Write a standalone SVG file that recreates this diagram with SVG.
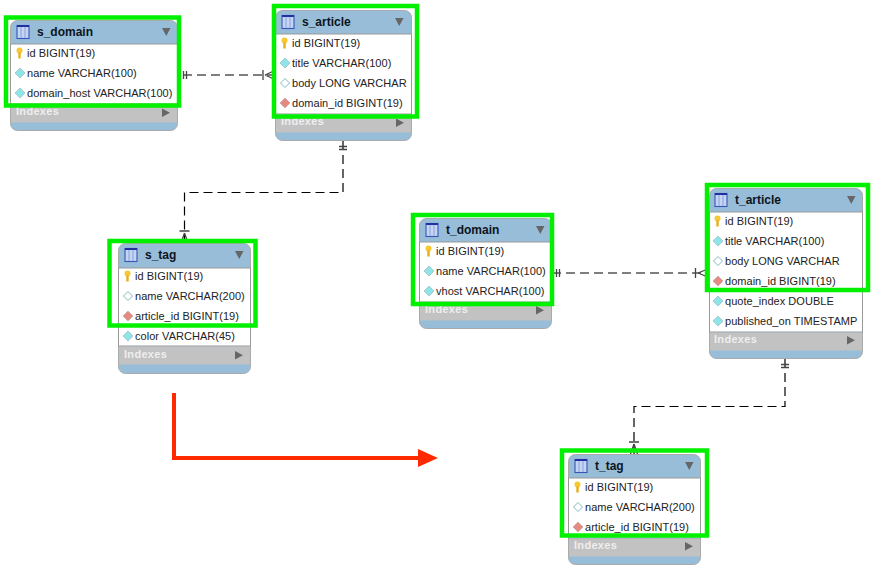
<svg xmlns="http://www.w3.org/2000/svg" xmlns:xlink="http://www.w3.org/1999/xlink" width="872" height="574" viewBox="0 0 872 574">
<style>
text{font-family:"Liberation Sans",Arial,sans-serif}
.t{font-size:12px;font-weight:bold;fill:#0c1420}
.r{font-size:11px;fill:#222;letter-spacing:.03px}
.i{font-size:11px;font-weight:bold;fill:#eee;letter-spacing:.3px}
.g{fill:none;stroke:#00f000;stroke-width:4.500}
.c{fill:none;stroke:#000;stroke-width:1.2;stroke-dasharray:9 5}
.m{fill:none;stroke:#444;stroke-width:1.300}
.n{fill:#97bdd9;stroke:#aaa}
.w{fill:#fff;stroke:#999}
.x{fill:#c2c2c2}
</style>
<defs>
<g id="tb"><rect x="0" y="-6.500" width="12" height="13" fill="#c4d4f2" stroke="#3a55b8" stroke-width="1.100"/><path d="M0-6h12" stroke="#2030a0" stroke-width="2"/><path d="M4-5v11M8-5v11" stroke="#8aa2dc" stroke-width="1"/></g>
<path id="tri" d="M0 0h8.500l-4.250 8z" fill="#666"/>
<path id="rt" d="M0 0l8 4.200-8 4.200z" fill="#666"/>
<g id="key"><circle cx="0" cy="-2.500" r="3" fill="#f6c832"/><path d="M-1.200-.5h2.400v6h-2.400z" fill="#e6ae1c"/></g>
<path id="dc" d="M0-5l5 5-5 5-5-5z" fill="#8fe4e8" stroke="#a0c0c8" stroke-width=".8"/>
<path id="dw" d="M0-4.500l4.500 4.500-4.500 4.500-4.500-4.500z" fill="#fff" stroke="#6fb0b4" stroke-width=".9"/>
<path id="dr" d="M0-5l5 5-5 5-5-5z" fill="#e58a83" stroke="#c8a8a8" stroke-width=".8"/>
</defs>
<rect width="872" height="574" fill="#fff"/>
<g id="connectors">
<path class="c" d="M183 75H275"/><path class="m" d="M183.500 71v8M186.500 71v8M263 70v10M265 75l10-4.500M265 75l10 4.500"/>
<path class="c" d="M343 141V192.500H184.500V243"/><path class="m" d="M339 146.500h8M339 149.500h8M179.500 231h10M184.500 233l-3.500 10M184.500 233l3.500 10"/>
<path class="c" d="M552 273H709"/><path class="m" d="M556.500 269v8M559.500 269v8M695.500 268v10M698 273l11-4.500M698 273l11 4.500"/>
<path class="c" d="M785 359V406.500H634V454"/><path class="m" d="M781 364.500h8M781 367.500h8M629 442h10M634 444l-3.500 10M634 444l3.500 10"/>
</g>
<g id="s_domain">
<rect class="n" x="10.500" y="20.500" width="167" height="110" rx="7"/>
<rect class="w" x="10.500" y="44" width="167" height="60"/>
<rect class="x" x="11" y="104.500" width="166" height="18"/>
<use xlink:href="#tb" x="17" y="32"/><text class="t" x="37" y="36">s_domain</text><use xlink:href="#tri" x="162" y="28"/>
<use xlink:href="#key" x="19.500" y="53"/><text class="r" x="27" y="57">id BIGINT(19)</text>
<use xlink:href="#dc" x="20" y="73"/><text class="r" x="27" y="77">name VARCHAR(100)</text>
<use xlink:href="#dc" x="20" y="93"/><text class="r" x="27" y="97">domain_host VARCHAR(100)</text>
<text class="i" x="16" y="115">Indexes</text><use xlink:href="#rt" x="162" y="108.500"/>
<rect class="g" x="6" y="17.500" width="173" height="88"/>
</g>
<g id="s_article">
<rect class="n" x="275.500" y="10.500" width="136" height="130" rx="7"/>
<rect class="w" x="275.500" y="34" width="136" height="80"/>
<rect class="x" x="276" y="114.500" width="135" height="18"/>
<use xlink:href="#tb" x="282" y="22"/><text class="t" x="302" y="26">s_article</text><use xlink:href="#tri" x="395" y="18"/>
<use xlink:href="#key" x="284.500" y="43"/><text class="r" x="292" y="47">id BIGINT(19)</text>
<use xlink:href="#dc" x="285" y="63"/><text class="r" x="292" y="67">title VARCHAR(100)</text>
<use xlink:href="#dw" x="285" y="83"/><text class="r" x="292" y="87">body LONG VARCHAR</text>
<use xlink:href="#dr" x="285" y="103"/><text class="r" x="292" y="107">domain_id BIGINT(19)</text>
<text class="i" x="281" y="125">Indexes</text><use xlink:href="#rt" x="396" y="118.500"/>
<rect class="g" x="274" y="6" width="143" height="110.500"/>
</g>
<g id="s_tag">
<rect class="n" x="118.500" y="243.500" width="132" height="130" rx="7"/>
<rect class="w" x="118.500" y="268" width="132" height="78"/>
<rect class="x" x="119" y="346.500" width="131" height="18"/>
<use xlink:href="#tb" x="125" y="255"/><text class="t" x="145" y="259">s_tag</text><use xlink:href="#tri" x="235" y="251"/>
<use xlink:href="#key" x="127.500" y="276"/><text class="r" x="135" y="280">id BIGINT(19)</text>
<use xlink:href="#dw" x="128" y="296"/><text class="r" x="135" y="300">name VARCHAR(200)</text>
<use xlink:href="#dr" x="128" y="316"/><text class="r" x="135" y="320">article_id BIGINT(19)</text>
<use xlink:href="#dc" x="128" y="336"/><text class="r" x="135" y="340">color VARCHAR(45)</text>
<text class="i" x="124" y="358">Indexes</text><use xlink:href="#rt" x="235" y="351"/>
<rect class="g" x="109.500" y="241" width="146" height="84.500"/>
</g>
<g id="t_domain">
<rect class="n" x="419.500" y="218.500" width="132" height="110" rx="7"/>
<rect class="w" x="419.500" y="242" width="132" height="60"/>
<rect class="x" x="420" y="302.500" width="131" height="18"/>
<use xlink:href="#tb" x="426" y="230"/><text class="t" x="446" y="234">t_domain</text><use xlink:href="#tri" x="536" y="226"/>
<use xlink:href="#key" x="428.500" y="251"/><text class="r" x="436" y="255">id BIGINT(19)</text>
<use xlink:href="#dc" x="429" y="271"/><text class="r" x="436" y="275">name VARCHAR(100)</text>
<use xlink:href="#dc" x="429" y="291"/><text class="r" x="436" y="295">vhost VARCHAR(100)</text>
<text class="i" x="425" y="313">Indexes</text><use xlink:href="#rt" x="536" y="306"/>
<rect class="g" x="413" y="215" width="139" height="89"/>
</g>
<g id="t_article">
<rect class="n" x="709.500" y="188.500" width="153" height="170" rx="7"/>
<rect class="w" x="709.500" y="212" width="153" height="120"/>
<rect class="x" x="710" y="332.500" width="152" height="18"/>
<use xlink:href="#tb" x="715" y="200"/><text class="t" x="735" y="204">t_article</text><use xlink:href="#tri" x="847" y="196"/>
<use xlink:href="#key" x="717.500" y="221"/><text class="r" x="725" y="225">id BIGINT(19)</text>
<use xlink:href="#dc" x="718" y="241"/><text class="r" x="725" y="245">title VARCHAR(100)</text>
<use xlink:href="#dw" x="718" y="261"/><text class="r" x="725" y="265">body LONG VARCHAR</text>
<use xlink:href="#dr" x="718" y="281"/><text class="r" x="725" y="285">domain_id BIGINT(19)</text>
<use xlink:href="#dc" x="718" y="301"/><text class="r" x="725" y="305">quote_index DOUBLE</text>
<use xlink:href="#dc" x="718" y="321"/><text class="r" x="725" y="325">published_on TIMESTAMP</text>
<text class="i" x="714" y="343">Indexes</text><use xlink:href="#rt" x="847" y="336"/>
<rect class="g" x="707" y="185" width="161" height="105"/>
</g>
<g id="t_tag">
<rect class="n" x="568.500" y="454.500" width="132" height="110" rx="7"/>
<rect class="w" x="568.500" y="478" width="132" height="60"/>
<rect class="x" x="569" y="538.500" width="131" height="18"/>
<use xlink:href="#tb" x="575" y="466"/><text class="t" x="595" y="470">t_tag</text><use xlink:href="#tri" x="685" y="462"/>
<use xlink:href="#key" x="577.500" y="487"/><text class="r" x="585" y="491">id BIGINT(19)</text>
<use xlink:href="#dw" x="578" y="507"/><text class="r" x="585" y="511">name VARCHAR(200)</text>
<use xlink:href="#dr" x="578" y="527"/><text class="r" x="585" y="531">article_id BIGINT(19)</text>
<text class="i" x="574" y="549">Indexes</text><use xlink:href="#rt" x="685" y="542"/>
<rect class="g" x="562" y="450.500" width="145" height="85"/>
</g>
<g id="arrow">
<path d="M174 393V458H420" fill="none" stroke="#ff2a00" stroke-width="4"/>
<path d="M418 449l20 9-20 9z" fill="#ff2a00"/>
</g>
</svg>
